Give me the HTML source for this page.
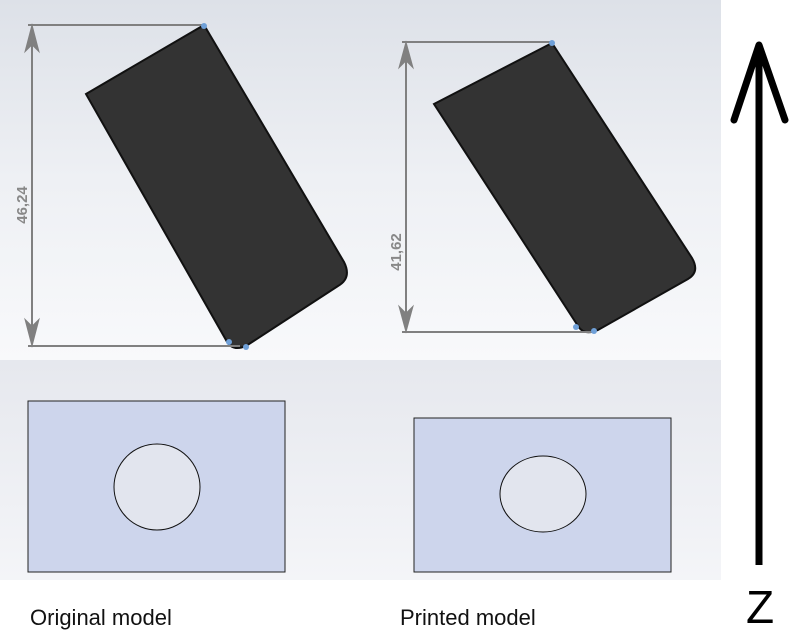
<!DOCTYPE html>
<html><head><meta charset="utf-8"><style>
html,body{margin:0;padding:0;background:#fff;width:809px;height:634px;overflow:hidden}
svg{display:block}
</style></head><body>
<svg width="809" height="634" viewBox="0 0 809 634" xmlns="http://www.w3.org/2000/svg">
<defs>
<linearGradient id="g1" x1="0" y1="0" x2="0" y2="1">
<stop offset="0" stop-color="#dde1e8"/><stop offset="0.5" stop-color="#eef0f4"/><stop offset="1" stop-color="#f8f9fb"/>
</linearGradient>
<linearGradient id="g2" x1="0" y1="0" x2="0" y2="1">
<stop offset="0" stop-color="#e6e8ee"/><stop offset="1" stop-color="#f4f5f8"/>
</linearGradient>
</defs>
<rect x="0" y="0" width="721" height="360" fill="url(#g1)"/>
<rect x="0" y="360" width="721" height="220" fill="url(#g2)"/>

<!-- left shape -->
<path d="M86,94 L204,25 L344,262 Q352,278 338,286 L246,346 Q232,352 226,340 Z" fill="#333333" stroke="#111" stroke-width="2"/>
<g stroke="#808080" stroke-width="2" fill="#808080">
<line x1="28" y1="25" x2="204" y2="25"/>
<line x1="28" y1="346" x2="240" y2="346"/>
<line x1="32" y1="27" x2="32" y2="344"/>
<path d="M32,27 L26,50 L32,44 L38,50 Z"/>
<path d="M32,344 L26,321 L32,327 L38,321 Z"/>
</g>
<text transform="translate(27,205) rotate(-90)" font-family="Liberation Sans, sans-serif" font-size="15" font-weight="bold" fill="#888" text-anchor="middle">46,24</text>
<circle cx="204" cy="26" r="3" fill="#6fa0d8"/>
<circle cx="229" cy="342" r="3" fill="#6fa0d8"/>
<circle cx="246" cy="347" r="3" fill="#6fa0d8"/>

<!-- right shape -->
<path d="M434,104 L552,43 L692,258 Q700,272 688,279 L598,330 Q584,336 578,326 Z" fill="#333333" stroke="#111" stroke-width="2"/>
<g stroke="#808080" stroke-width="2" fill="#808080">
<line x1="402" y1="42" x2="552" y2="42"/>
<line x1="402" y1="332" x2="594" y2="332"/>
<line x1="406" y1="44" x2="406" y2="330"/>
<path d="M406,44 L400,66 L406,60 L412,66 Z"/>
<path d="M406,330 L400,308 L406,314 L412,308 Z"/>
</g>
<text transform="translate(401,252) rotate(-90)" font-family="Liberation Sans, sans-serif" font-size="15" font-weight="bold" fill="#888" text-anchor="middle">41,62</text>
<circle cx="552" cy="43" r="3" fill="#6fa0d8"/>
<circle cx="576" cy="327" r="3" fill="#6fa0d8"/>
<circle cx="594" cy="331" r="3" fill="#6fa0d8"/>

<!-- bottom rects -->
<rect x="28" y="401" width="257" height="171" fill="#cdd5ec" stroke="#222" stroke-width="1"/>
<circle cx="157" cy="487" r="43" fill="#e2e5ee" stroke="#111" stroke-width="1"/>
<rect x="414" y="418" width="257" height="154" fill="#cdd5ec" stroke="#222" stroke-width="1"/>
<ellipse cx="543" cy="494" rx="43" ry="38" fill="#e2e5ee" stroke="#111" stroke-width="1"/>

<text x="30" y="625" font-family="Liberation Sans, sans-serif" font-size="22" fill="#111">Original model</text>
<text x="400" y="625" font-family="Liberation Sans, sans-serif" font-size="22" fill="#111">Printed model</text>

<!-- Z arrow -->
<line x1="759" y1="50" x2="759" y2="565" stroke="#000" stroke-width="7"/>
<polyline points="734,120 759,45 785,120" fill="none" stroke="#000" stroke-width="7" stroke-linecap="round" stroke-linejoin="round"/>
<text x="760" y="623" font-family="Liberation Sans, sans-serif" font-size="46" fill="#000" text-anchor="middle">Z</text>
</svg>
</body></html>
